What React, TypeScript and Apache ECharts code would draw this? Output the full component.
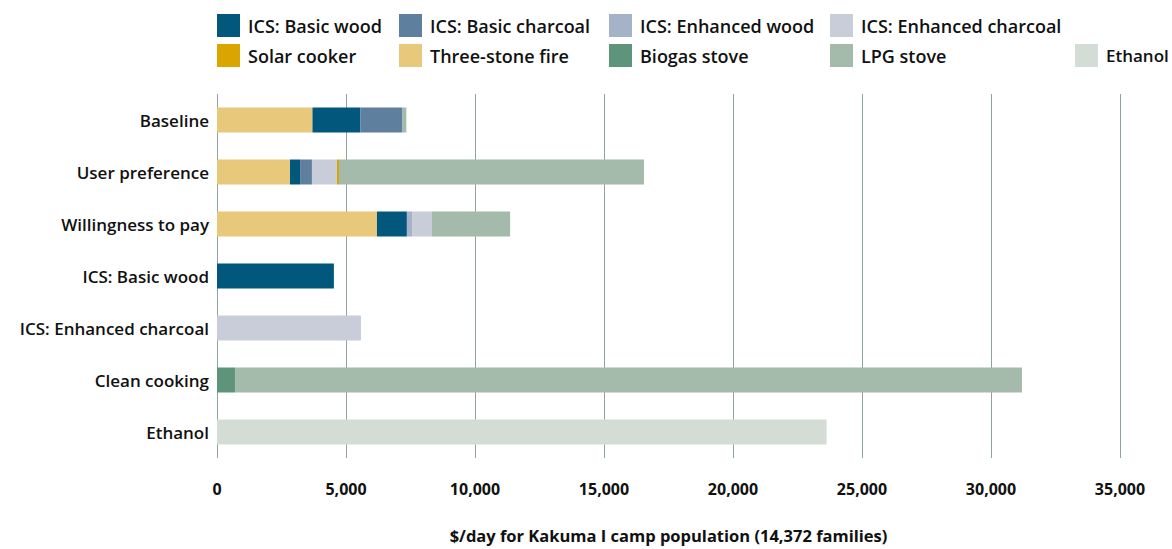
import React, { useEffect, useRef } from "react";
import * as echarts from "echarts";

const categories = [
  "Baseline",
  "User preference",
  "Willingness to pay",
  "ICS: Basic wood",
  "ICS: Enhanced charcoal",
  "Clean cooking",
  "Ethanol",
];

// values per scenario, in category order
const threeStone = [3700, 2830, 6200, 0, 0, 0, 0];
const basicWood = [1860, 390, 1160, 4530, 0, 0, 0];
const basicCharcoal = [1630, 460, 0, 0, 0, 0, 0];
const enhancedWood = [0, 0, 200, 0, 0, 0, 0];
const enhancedCharcoal = [0, 970, 770, 0, 5580, 0, 0];
const solarCooker = [0, 80, 0, 0, 0, 0, 0];
const biogas = [0, 0, 0, 0, 0, 700, 0];
const lpg = [150, 11820, 3030, 0, 0, 30500, 0];
const ethanol = [0, 0, 0, 0, 0, 0, 23630];

const xTicks = [0, 5000, 10000, 15000, 20000, 25000, 30000, 35000];

const seriesDefs = [
  { name: "Three-stone fire", data: threeStone, color: "#e8c87a" },
  { name: "ICS: Basic wood", data: basicWood, color: "#01587c" },
  { name: "ICS: Basic charcoal", data: basicCharcoal, color: "#5f7f9e" },
  { name: "ICS: Enhanced wood", data: enhancedWood, color: "#a6b2c7" },
  { name: "ICS: Enhanced charcoal", data: enhancedCharcoal, color: "#c8cdd9" },
  { name: "Solar cooker", data: solarCooker, color: "#dba500" },
  { name: "Biogas stove", data: biogas, color: "#5e9479" },
  { name: "LPG stove", data: lpg, color: "#a4baab" },
  { name: "Ethanol", data: ethanol, color: "#d3ddd6" },
];

const legendItems = [
  { name: "ICS: Basic wood", left: 217, top: 14, size: 18 },
  { name: "ICS: Basic charcoal", left: 399, top: 14, size: 18 },
  { name: "ICS: Enhanced wood", left: 609, top: 14, size: 18 },
  { name: "ICS: Enhanced charcoal", left: 830, top: 14, size: 18 },
  { name: "Solar cooker", left: 217, top: 44, size: 18 },
  { name: "Three-stone fire", left: 399, top: 44, size: 18 },
  { name: "Biogas stove", left: 609, top: 44, size: 18 },
  { name: "LPG stove", left: 830, top: 44, size: 18 },
  { name: "Ethanol", left: 1075, top: 44, size: 17 },
];

const FONT = "'Open Sans', 'Noto Sans', sans-serif";

export default function App() {
  const ref = useRef<HTMLDivElement>(null);
  useEffect(() => {
    if (!ref.current) return;
    const chart = echarts.init(ref.current, null, { renderer: "svg" });
    const option = {
      animation: false,
      backgroundColor: "#ffffff",
      textStyle: { fontFamily: FONT },
      legend: legendItems.map((l) => ({
        data: [l.name],
        left: l.left,
        top: l.top,
        itemWidth: 23,
        itemHeight: 23,
        itemGap: 0,
        padding: 0,
        icon: "rect",
        selectedMode: false,
        textStyle: {
          fontFamily: FONT,
          fontSize: l.size,
          fontWeight: 600,
          color: "#111111",
          padding: [0, 0, 0, 3],
        },
      })),
      grid: { left: 217, width: 903, top: 94, height: 370, containLabel: false },
      xAxis: {
        type: "value",
        min: 0,
        max: 35000,
        interval: 5000,
        axisLine: { show: false },
        axisTick: { show: false },
        splitLine: { show: true, lineStyle: { color: "#8fa39c", width: 1 } },
        axisLabel: {
          margin: 23,
          fontFamily: FONT,
          fontSize: 16,
          fontWeight: 700,
          color: "#111111",
          formatter: (v: number) =>
            xTicks.includes(v) ? v.toLocaleString("en-US") : "",
        },
        name: "$/day for Kakuma I camp population (14,372 families)",
        nameLocation: "middle",
        nameGap: 69,
        nameTextStyle: {
          fontFamily: FONT,
          fontSize: 16.5,
          fontWeight: 700,
          color: "#111111",
        },
      },
      yAxis: {
        type: "category",
        data: categories,
        inverse: true,
        axisLine: { show: false },
        axisTick: { show: false },
        axisLabel: {
          margin: 8,
          fontFamily: FONT,
          fontSize: 17,
          fontWeight: 600,
          color: "#111111",
        },
      },
      series: seriesDefs.map((s) => ({
        name: s.name,
        type: "bar",
        stack: "total",
        barWidth: 25,
        data: s.data,
        itemStyle: { color: s.color },
        emphasis: { disabled: true },
      })),
    };
    chart.setOption(option);
    return () => chart.dispose();
  }, []);
  return (
    <div
      ref={ref}
      style={{ position: "fixed", left: 0, top: 0, width: 1172, height: 549 }}
    />
  );
}
